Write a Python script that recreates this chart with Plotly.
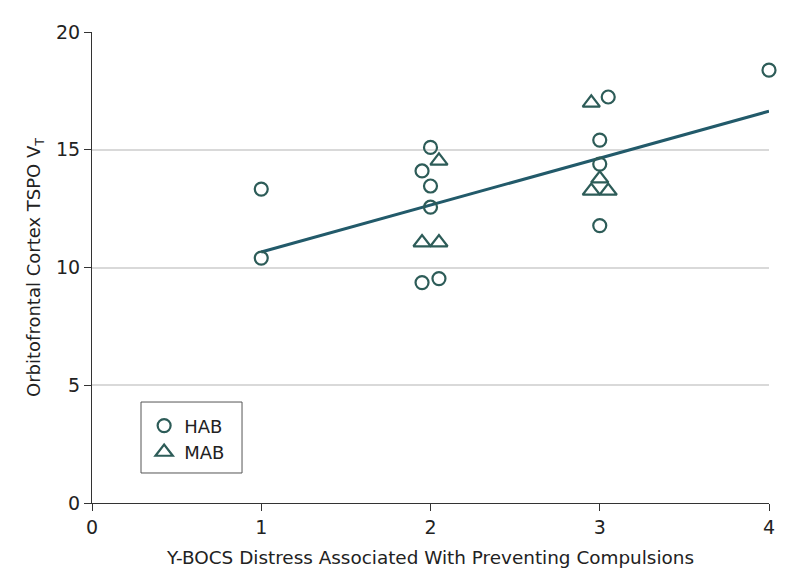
import numpy as np
import plotly.graph_objects as go

# HAB group (circles) - x as plotted (jittered around integer scores)
hab_x = [1.0, 1.0, 2.0, 1.95, 2.0, 2.0, 1.95, 2.05, 3.05, 3.0, 3.0, 3.0, 4.0]
hab_y = [13.33, 10.40, 15.10, 14.10, 13.46, 12.56, 9.36, 9.53, 17.24, 15.41, 14.39, 11.78, 18.38]

# MAB group (triangles)
mab_x = [2.05, 1.95, 2.05, 2.95, 3.0, 2.95, 3.05]
mab_y = [14.53, 11.06, 11.06, 16.99, 13.77, 13.25, 13.25]

x_ticks = [0, 1, 2, 3, 4]
y_ticks = [0, 5, 10, 15, 20]

# regression fit on the integer scores
all_x = np.round(np.array(hab_x + mab_x))
all_y = np.array(hab_y + mab_y)
slope, intercept = np.polyfit(all_x, all_y, 1)
fit_x = np.array([all_x.min(), all_x.max()])
fit_y = intercept + slope * fit_x

FONT = "DejaVu Sans, sans-serif"
MARK = "#2d5c58"
LINE = "#225a6a"

fig = go.Figure()
fig.add_trace(go.Scatter(x=fit_x, y=fit_y, mode="lines",
                         line=dict(color=LINE, width=3), showlegend=False,
                         hoverinfo="skip"))
fig.add_trace(go.Scatter(x=hab_x, y=hab_y, mode="markers", name="HAB",
                         marker=dict(symbol="circle-open", size=13,
                                     color=MARK, line=dict(width=2.2, color=MARK)),
                         cliponaxis=False))
fig.add_trace(go.Scatter(x=mab_x, y=mab_y, mode="markers", name="MAB",
                         marker=dict(symbol="triangle-up-open", size=15,
                                     color=MARK, line=dict(width=2.2, color=MARK)),
                         cliponaxis=False))

# legend frame
fig.add_shape(type="rect", xref="paper", yref="paper",
              x0=0.0724, x1=0.2216, y0=0.0637, y1=0.2144,
              line=dict(color="#555555", width=1), fillcolor="white", layer="below")

fig.update_layout(
    width=790, height=580,
    margin=dict(l=84, r=29, t=24, b=85),
    paper_bgcolor="white", plot_bgcolor="white",
    font=dict(family=FONT, size=18, color="#222222"),
    legend=dict(x=0.077, y=0.203, xanchor="left", yanchor="top",
                borderwidth=0, bgcolor="rgba(0,0,0,0)",
                font=dict(size=18), tracegroupgap=0),
    xaxis=dict(range=[0, 4], tickvals=x_ticks, showgrid=False, zeroline=False,
               showline=True, linecolor="#333333", linewidth=1,
               ticks="outside", ticklen=7, tickcolor="#333333",
               tickfont=dict(size=19),
               title=dict(text="Y-BOCS Distress Associated With Preventing Compulsions",
                          font=dict(size=18.4), standoff=14)),
    yaxis=dict(range=[0, 20], tickvals=y_ticks, showgrid=True, gridcolor="#d9d9d9",
               gridwidth=1.5, zeroline=False,
               showline=True, linecolor="#333333", linewidth=1,
               ticks="outside", ticklen=7, tickcolor="#333333",
               tickfont=dict(size=19),
               title=dict(text="Orbitofrontal Cortex TSPO V<sub>T</sub>",
                          font=dict(size=18), standoff=10)),
)

fig.write_html("out.html")
